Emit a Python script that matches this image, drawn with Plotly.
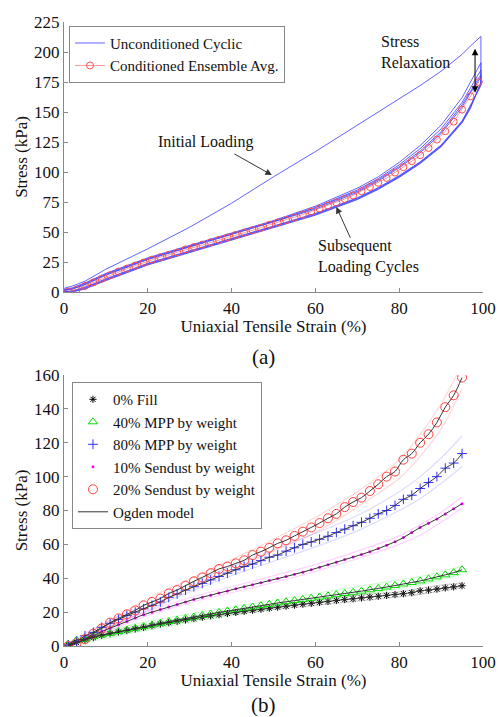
import plotly.graph_objects as go

# ---------------- (a) data ----------------
cyc_strain = [0, 2, 5, 10, 20, 30, 40, 50, 60, 70, 75, 80, 85, 90, 95, 97, 99.5]
load_1 = [3, 5, 9, 19, 36, 54, 74, 96, 117, 139, 150, 161, 172, 184, 198, 205, 213]
unload_1 = [0, 0, 2.5, 9.5, 22.5, 33, 43, 53.5, 64, 77, 85.5, 95.5, 107, 121, 141, 153, 175]
load_2 = [2, 3.5, 7.5, 15.5, 28.5, 39, 49, 59.5, 71.5, 86.5, 96, 108, 122, 139, 162, 175, 191]
unload_2 = [0, 0.5, 3, 10, 23, 33.5, 43.5, 54, 64.5, 77.5, 86, 96, 107.5, 121.5, 141.5, 154, 174]
load_3 = [1.5, 3, 7, 15, 28, 38.5, 48.5, 59, 70.5, 85, 94.5, 106, 119.5, 136, 158, 170, 185]
unload_3 = [0, 0.5, 3.5, 10.5, 23.5, 34, 44, 54.5, 65, 78, 86.5, 96.5, 108, 122, 142, 154.5, 173]
load_4 = [1.5, 2.5, 6.5, 14.5, 27.5, 38, 48, 58.5, 70, 84, 93.5, 104.5, 117.5, 133.5, 156, 167.5, 181]
unload_4 = [0, 1, 4, 11, 24, 34.5, 44.5, 55, 65.5, 78.5, 87, 97, 108.5, 122.5, 142.5, 155, 172]
load_5 = [1, 2.5, 6, 14, 27, 37.5, 47.5, 58, 69, 83, 92.5, 103.5, 116, 132, 154, 166, 179]

avg_strain = list(range(1, 100, 2))
avg_stress = [0.5, 2, 5, 8, 11, 14, 17, 19.5, 22, 24.5, 27, 29, 31, 33, 35.5, 37.5, 39.5,
              41.5, 43.5, 45.5, 47.5, 49.5, 51.5, 53.5, 56, 58, 60, 62, 64.5, 67, 69.5,
              72, 74.5, 77.5, 80.5, 84, 87.5, 91, 95, 99.5, 104, 109, 114, 120, 127,
              134, 142, 152, 163, 175]

# ---------------- (b) data ----------------
fill_strain = list(range(1, 96, 2))
fill_0 = [0.5, 2, 3.5, 5, 6.3, 7.3, 8.3, 9.2, 10.1, 11, 12, 13, 13.8, 14.6, 15.4, 16.2,
          17, 17.8, 18.5, 19.2, 19.8, 20.5, 21.1, 21.7, 22.3, 22.9, 23.5, 24.1, 24.7,
          25.2, 25.8, 26.3, 26.9, 27.4, 27.9, 28.4, 28.9, 29.4, 29.9, 30.4, 30.9, 31.5,
          32.6, 33, 33.6, 34.3, 34.9, 35.6]
mpp_40 = [1, 3.5, 4, 5.5, 6.5, 7.5, 8.5, 9.5, 10.5, 11.4, 12.4, 13.4, 14.4, 15.3, 16.2,
          17.1, 18, 18.9, 19.8, 20.6, 21.4, 22.2, 23, 23.8, 24.6, 25.4, 26.1, 26.8, 27.5,
          28.2, 28.9, 29.6, 30.3, 31, 31.7, 32.4, 33.2, 34, 34.8, 35.7, 36.6, 37.5, 38.4,
          39.6, 40.8, 42, 43.3, 45]
mpp_80 = [0.6, 2.6, 6, 8, 11, 13.4, 15.7, 18, 20, 22, 24, 26, 28.7, 30.7, 33, 35, 37, 39,
          41, 43, 45, 46.9, 48.4, 50.4, 52.4, 53.7, 56, 58, 60, 61.4, 63, 64.8, 67, 69,
          71, 73, 75.4, 78, 80, 83, 86.6, 89, 93, 96.5, 100, 105, 108, 113.6]
sendust_10 = [0.5, 2, 4, 6, 8.5, 10.5, 12.5, 14.5, 16.5, 18.5, 20, 21.5, 23, 24.5, 26,
              27.5, 28.8, 30, 31.3, 32.5, 33.8, 35, 36.2, 37.4, 38.6, 39.8, 41, 42.3,
              43.6, 45, 46.5, 48, 49.5, 51, 52.5, 54, 55.7, 57.5, 59.5, 61.5, 64, 67,
              70, 72.5, 75, 78, 81, 84]
sendust_20 = [0, 1.6, 4, 7.3, 10.4, 13.8, 16.3, 18.7, 21, 24, 26, 28, 31, 33, 35.6, 38.2,
              40.5, 43, 45.5, 46.9, 48.8, 50.6, 53.7, 55.7, 58, 60.6, 62.4, 65, 67.5, 70,
              72.6, 75.4, 78, 82, 85, 87.6, 91.5, 95.5, 100, 103, 110, 113.6, 120, 125,
              132, 141, 148, 158.5]

band_strain = [1, 10, 20, 30, 40, 50, 60, 70, 80, 85, 90, 95]
band_0_hi = [1.5, 8, 13, 17, 21, 24, 27, 30, 32, 34, 36, 37]
band_0_lo = [0, 6, 10.5, 15, 18.5, 21.5, 24, 26.5, 29, 30.5, 32.5, 34.5]
band_40_hi = [2, 9, 14.5, 19, 23, 27, 31, 35, 39, 41, 44, 47]
band_40_lo = [0, 4.5, 9.5, 14, 18, 22, 26, 30, 34, 36, 39, 42.5]
band_80_hi = [2, 14, 25, 37, 47, 57, 66.5, 77, 91, 100, 111, 124]
band_80_lo = [0, 10, 21, 32, 41.5, 50, 58.5, 68, 80, 87, 96, 106]
band_s10_hi = [1.5, 11, 20.5, 28.5, 35, 41.5, 48, 56, 65, 71.5, 79, 88]
band_s10_lo = [0, 8.5, 18, 25.5, 31.5, 37.5, 44, 51.5, 60, 65.5, 73, 81.5]
band_s20_hi = [1, 13.5, 28, 39.5, 51, 63, 76, 91, 110, 125, 143, 166]
band_s20_lo = [0, 10, 23, 34, 44.5, 56, 67, 82, 99, 112, 128, 152]

FONT = "'Liberation Serif', 'Times New Roman', Times, serif"
fig = go.Figure()

# ---------- (a) traces ----------
cx, cy = [], []
loads = [load_1, load_2, load_3, load_4, load_5]
unloads = [unload_1, unload_2, unload_3, unload_4]
for i, ld in enumerate(loads):
    cx += cyc_strain
    cy += ld
    if i < len(unloads):
        cx += cyc_strain[::-1]
        cy += unloads[i][::-1]
fig.add_trace(go.Scatter(x=cx, y=cy, mode="lines", name="Unconditioned Cyclic",
                         line=dict(color="rgba(70,70,255,0.85)", width=1),
                         xaxis="x", yaxis="y", legend="legend"))
fig.add_trace(go.Scatter(x=avg_strain, y=avg_stress, mode="lines+markers",
                         name="Conditioned Ensemble Avg.",
                         line=dict(color="rgba(255,90,90,0.6)", width=1),
                         marker=dict(symbol="circle-open", size=7,
                                     line=dict(color="#ff5050", width=1), color="#ff5050"),
                         xaxis="x", yaxis="y", legend="legend"))

# ---------- (b) traces ----------
bands = [
    (band_0_hi, band_0_lo, "rgba(0,0,0,0.18)"),
    (band_40_hi, band_40_lo, "rgba(0,220,0,0.18)"),
    (band_80_hi, band_80_lo, "rgba(60,60,255,0.18)"),
    (band_s10_hi, band_s10_lo, "rgba(255,0,255,0.18)"),
    (band_s20_hi, band_s20_lo, "rgba(255,60,60,0.2)"),
]
for hi, lo, col in bands:
    for arr in (hi, lo):
        fig.add_trace(go.Scatter(x=band_strain, y=arr, mode="lines",
                                 line=dict(color=col, width=1.2, shape="spline"),
                                 showlegend=False, hoverinfo="skip",
                                 xaxis="x2", yaxis="y2"))

series = [
    ("0% Fill", fill_0, dict(symbol="asterisk-open", size=6, color="black",
                              line=dict(color="black", width=1))),
    ("40% MPP by weight", mpp_40, dict(symbol="triangle-up-open", size=8, color="#00dd00",
                                        line=dict(color="#00dd00", width=1))),
    ("80% MPP by weight", mpp_80, dict(symbol="cross-thin-open", size=7, color="#3030ff",
                                        line=dict(color="#3030ff", width=1))),
    ("10% Sendust by weight", sendust_10, dict(symbol="circle", size=3, color="#ff00ff",
                                                line=dict(width=0))),
    ("20% Sendust by weight", sendust_20, dict(symbol="circle-open", size=9, color="#ff4040",
                                                line=dict(color="#ff4040", width=1))),
]
for name, vals, mk in series:
    fig.add_trace(go.Scatter(x=fill_strain, y=vals, mode="markers", name=name, marker=mk,
                             xaxis="x2", yaxis="y2", legend="legend2"))
for i, (name, vals, mk) in enumerate(series):
    fig.add_trace(go.Scatter(x=fill_strain, y=vals, mode="lines", name="Ogden model",
                             line=dict(color="#333333", width=1, shape="spline"),
                             legendgroup="ogden", showlegend=(i == 0),
                             xaxis="x2", yaxis="y2", legend="legend2"))

axis_common = dict(showline=True, linecolor="#888888", linewidth=1.2, ticks="inside",
                   ticklen=4, tickcolor="#888888", showgrid=False, zeroline=False,
                   tickfont=dict(family=FONT, size=17, color="#111111"),
                   mirror=False, automargin=False)

fig.update_layout(
    width=498, height=717,
    margin=dict(l=64, r=15, t=22, b=71, autoexpand=False),
    paper_bgcolor="white", plot_bgcolor="white",
    font=dict(family=FONT, size=16, color="#111111"),
    xaxis=dict(domain=[0, 1], anchor="y", range=[0, 100], dtick=20,
               title=dict(text="Uniaxial Tensile Strain (%)", standoff=0,
                          font=dict(family=FONT, size=17)), **axis_common),
    yaxis=dict(domain=[0.5673, 1], anchor="x", range=[0, 225], dtick=25,
               title=dict(text="Stress (kPa)", standoff=2,
                          font=dict(family=FONT, size=17)), **axis_common),
    xaxis2=dict(domain=[0, 1], anchor="y2", range=[0, 100], dtick=20,
                title=dict(text="Uniaxial Tensile Strain (%)", standoff=0,
                           font=dict(family=FONT, size=17)), **axis_common),
    yaxis2=dict(domain=[0, 0.4343], anchor="x2", range=[0, 160], dtick=20,
                title=dict(text="Stress (kPa)", standoff=2,
                           font=dict(family=FONT, size=17)), **axis_common),
    legend=dict(x=0.012, y=0.994, xanchor="left", yanchor="top",
                bordercolor="#888888", borderwidth=1, bgcolor="white",
                font=dict(family=FONT, size=15), tracegroupgap=0, itemwidth=30),
    legend2=dict(x=0.019, y=0.423, xanchor="left", yanchor="top",
                 bordercolor="#888888", borderwidth=1, bgcolor="white",
                 font=dict(family=FONT, size=15), tracegroupgap=0, itemwidth=30),
    showlegend=True,
)

ann_font = dict(family=FONT, size=16, color="#111111")
fig.add_annotation(x=75.2, y=200.4, xref="x", yref="y", text="Stress<br>Relaxation",
                   showarrow=False, xanchor="left", align="left", font=ann_font)
fig.add_annotation(x=98.1, y=166, ax=98.1, ay=204, xref="x", yref="y", axref="x", ayref="y",
                   text="", showarrow=True, arrowhead=2, startarrowhead=2,
                   arrowside="end+start", arrowwidth=1, arrowcolor="black", arrowsize=1.3)
fig.add_annotation(x=33.9, y=125, xref="x", yref="y", text="Initial Loading",
                   showarrow=False, font=ann_font)
fig.add_annotation(x=49.6, y=97.5, ax=40.3, ay=115.8, xref="x", yref="y", axref="x", ayref="y",
                   text="", showarrow=True, arrowhead=2, arrowwidth=1, arrowcolor="#333333",
                   arrowsize=1.3)
fig.add_annotation(x=60.1, y=29.6, xref="x", yref="y", text="Subsequent<br>Loading Cycles",
                   showarrow=False, xanchor="left", align="left", font=ann_font)
fig.add_annotation(x=65, y=70.8, ax=68.5, ay=44, xref="x", yref="y", axref="x", ayref="y",
                   text="", showarrow=True, arrowhead=2, arrowwidth=1, arrowcolor="#333333",
                   arrowsize=1.3)
fig.add_annotation(x=0.475, y=0.463, xref="paper", yref="paper", text="(a)",
                   showarrow=False, font=dict(family=FONT, size=21, color="#111111"))
fig.add_annotation(x=0.475, y=-0.0721, xref="paper", yref="paper", text="(b)",
                   yanchor="top", showarrow=False,
                   font=dict(family=FONT, size=21, color="#111111"))

# remove the browser's default page margin so the 498x717 figure fills the window exactly
fig.write_html("out.html", config={"displayModeBar": False},
               post_script="document.body.style.margin='0';"
                           "document.documentElement.style.overflow='hidden';")
